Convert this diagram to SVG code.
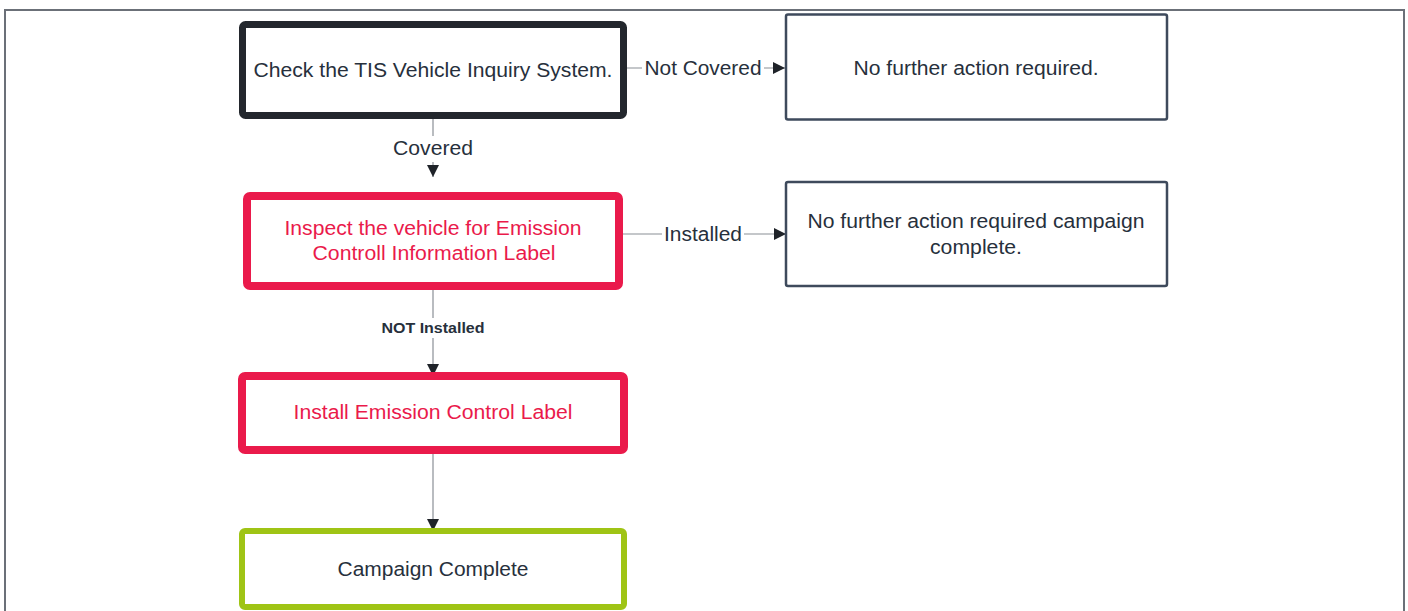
<svg xmlns="http://www.w3.org/2000/svg" width="1408" height="611" viewBox="0 0 1408 611">
  <style>
    .node { fill: #ffffff; }
    .dark { stroke: #23272d; stroke-width: 7; }
    .red { stroke: #ea1a4b; stroke-width: 8; }
    .green { stroke: #9fc415; stroke-width: 6; }
    .plain { stroke: #3e4a5c; stroke-width: 2.5; }
    .txt { font-family: "Liberation Sans", Arial, sans-serif; font-size: 20px; fill: #27303c; text-anchor: middle; }
    .txt-red { fill: #ea1a4b; }
    .lbl { font-family: "Liberation Sans", Arial, sans-serif; font-size: 20px; fill: #27303c; text-anchor: middle; }
    .lbl-sm { font-family: "Liberation Sans", Arial, sans-serif; font-size: 14px; font-weight: bold; fill: #27303c; text-anchor: middle; }
    .edge { stroke: #8a8f96; stroke-width: 1.2; fill: none; }
    .bg { fill: #ffffff; }
  </style>
  <defs>
    <marker id="arrow" viewBox="0 0 10 10" refX="10" refY="5" markerWidth="12" markerHeight="12" markerUnits="userSpaceOnUse" orient="auto">
      <path d="M0,0 L10,5 L0,10 z" fill="#1f2329"/>
    </marker>
  </defs>

  <rect x="0" y="0" width="1408" height="611" fill="#ffffff"/>
  <!-- outer frame -->
  <path d="M5,611 L5,10 L1404,10 L1404,611" fill="none" stroke="#6b7078" stroke-width="2"/>

  <!-- connectors -->
  <g id="edges">
    <g id="edge-not-covered">
      <line class="edge" x1="627" y1="68" x2="785" y2="68" marker-end="url(#arrow)"/>
      <rect class="bg" x="642" y="56" width="122" height="24"/>
      <text class="lbl" x="703" y="75" textLength="117" lengthAdjust="spacingAndGlyphs">Not Covered</text>
    </g>
    <g id="edge-covered">
      <line class="edge" x1="433" y1="119" x2="433" y2="177" marker-end="url(#arrow)"/>
      <rect class="bg" x="390" y="136" width="86" height="26"/>
      <text class="lbl" x="433" y="155" textLength="80" lengthAdjust="spacingAndGlyphs">Covered</text>
    </g>
    <g id="edge-installed">
      <line class="edge" x1="623" y1="234" x2="786" y2="234" marker-end="url(#arrow)"/>
      <rect class="bg" x="662" y="222" width="82" height="24"/>
      <text class="lbl" x="703" y="241" textLength="78" lengthAdjust="spacingAndGlyphs">Installed</text>
    </g>
    <g id="edge-not-installed">
      <line class="edge" x1="433" y1="290" x2="433" y2="376" marker-end="url(#arrow)"/>
      <rect class="bg" x="380" y="318" width="106" height="20"/>
      <text class="lbl-sm" x="433" y="333" textLength="103" lengthAdjust="spacingAndGlyphs">NOT Installed</text>
    </g>
    <g id="edge-complete">
      <line class="edge" x1="433" y1="454" x2="433" y2="531" marker-end="url(#arrow)"/>
    </g>
  </g>

  <!-- nodes -->
  <g id="node-check-tis">
    <rect class="node dark" x="242.5" y="24.5" width="381" height="91" rx="3"/>
    <text class="txt" x="433" y="77" textLength="359" lengthAdjust="spacingAndGlyphs">Check the TIS Vehicle Inquiry System.</text>
  </g>

  <g id="node-no-action">
    <rect class="node plain" x="786" y="14.5" width="381" height="105" rx="2"/>
    <text class="txt" x="976" y="75" textLength="245" lengthAdjust="spacingAndGlyphs">No further action required.</text>
  </g>

  <g id="node-inspect">
    <rect class="node red" x="247" y="196" width="372" height="90" rx="3"/>
    <text class="txt txt-red" x="433" y="235" textLength="297" lengthAdjust="spacingAndGlyphs">Inspect the vehicle for Emission</text>
    <text class="txt txt-red" x="434" y="260" textLength="243" lengthAdjust="spacingAndGlyphs">Controll Information Label</text>
  </g>

  <g id="node-campaign-done">
    <rect class="node plain" x="786" y="182" width="381" height="104" rx="2"/>
    <text class="txt" x="976" y="228" textLength="337" lengthAdjust="spacingAndGlyphs">No further action required campaign</text>
    <text class="txt" x="976" y="254" textLength="92" lengthAdjust="spacingAndGlyphs">complete.</text>
  </g>

  <g id="node-install">
    <rect class="node red" x="242" y="376" width="382" height="74" rx="3"/>
    <text class="txt txt-red" x="433" y="419" textLength="279" lengthAdjust="spacingAndGlyphs">Install Emission Control Label</text>
  </g>

  <g id="node-complete">
    <rect class="node green" x="242" y="531" width="382" height="76" rx="3"/>
    <text class="txt" x="433" y="576" textLength="191" lengthAdjust="spacingAndGlyphs">Campaign Complete</text>
  </g>
</svg>
